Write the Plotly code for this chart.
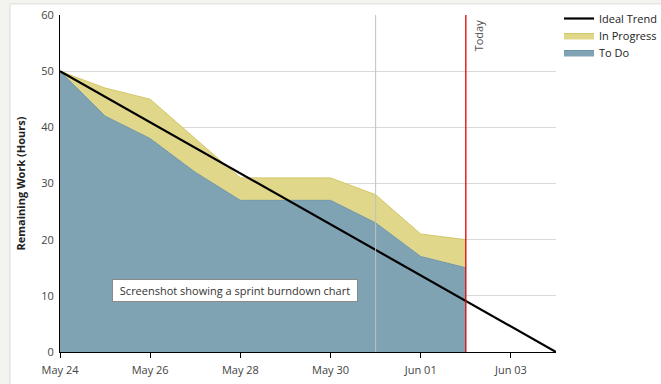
import plotly.graph_objects as go

dates = ["2011-05-24", "2011-05-25", "2011-05-26", "2011-05-27", "2011-05-28",
         "2011-05-29", "2011-05-30", "2011-05-31", "2011-06-01", "2011-06-02"]
todo = [50, 42, 38, 32, 27, 27, 27, 23, 17, 15]
total = [50, 47, 45, 38, 31, 31, 31, 28, 21, 20]
ideal_dates = ["2011-05-24", "2011-06-04"]
ideal_vals = [50, 0]
today = "2011-06-02"
marker_day = "2011-05-31"
y_ticks = [0, 10, 20, 30, 40, 50, 60]

font = "Open Sans, Noto Sans, sans-serif"

fig = go.Figure()
fig.add_trace(go.Scatter(x=dates, y=todo, name="To Do", mode="lines",
                         fill="tozeroy", fillcolor="#80a3b4",
                         line=dict(color="#6f95a8", width=1), legend="legend3"))
fig.add_trace(go.Scatter(x=dates, y=total, name="In Progress", mode="lines",
                         fill="tonexty", fillcolor="#e1d78a",
                         line=dict(color="#d4c766", width=1), legend="legend2"))
fig.add_trace(go.Scatter(x=ideal_dates, y=ideal_vals, name="Ideal Trend", mode="lines",
                         line=dict(color="black", width=2.2), legend="legend"))

fig.add_shape(type="line", xref="paper", yref="y", x0=0, x1=1, y0=max(y_ticks), y1=max(y_ticks),
              line=dict(color="#d9d9d9", width=1), layer="below")
fig.add_shape(type="line", xref="x", yref="paper", x0=marker_day, x1=marker_day,
              y0=0, y1=1, line=dict(color="#c0c0c0", width=1), layer="above")
fig.add_shape(type="line", xref="x", yref="paper", x0=today, x1=today,
              y0=0, y1=1, line=dict(color="#e00000", width=1.3), layer="above")
fig.add_shape(type="rect", xref="paper", yref="paper", x0=-0.1008, x1=1.3,
              y0=-0.2, y1=1.033, line=dict(color="#dddcd7", width=1),
              fillcolor="white", layer="below")

fig.add_annotation(x=today, xref="x", y=1, yref="paper", text="Today",
                   textangle=-90, showarrow=False, xanchor="left", yanchor="top",
                   xshift=3, yshift=-2, font=dict(size=11, color="#555", family=font))
fig.add_annotation(x=0.353, xref="paper", y=0.148, yref="paper",
                   text="Screenshot showing a sprint burndown chart", showarrow=False,
                   bgcolor="white", bordercolor="#8a8a8a", borderwidth=1, borderpad=3,
                   width=238, font=dict(size=11, color="#333", family=font))

legend_common = dict(xref="container", yref="container", x=559 / 661,
                     xanchor="left", yanchor="top",
                     font=dict(size=11, color="#222"), itemwidth=30,
                     bgcolor="rgba(0,0,0,0)")

fig.update_layout(
    width=661, height=384,
    margin=dict(l=60, r=105, t=15, b=32),
    paper_bgcolor="#f3f3f0", plot_bgcolor="white",
    font=dict(family=font, size=11, color="#444"),
    showlegend=True, hovermode=False,
    legend=dict(y=1 - 4 / 384, **legend_common),
    legend2=dict(y=1 - 21 / 384, **legend_common),
    legend3=dict(y=1 - 38 / 384, **legend_common),
    xaxis=dict(type="date", range=["2011-05-24", "2011-06-04"],
               tick0="2011-05-24", dtick=2 * 86400000, tickformat="%b %d",
               showgrid=False, showline=True, linecolor="black", linewidth=1,
               ticks="outside", ticklen=5, tickcolor="black", zeroline=False,
               ticklabelstandoff=3, automargin=False,
               tickfont=dict(size=11, color="#444")),
    yaxis=dict(range=[0, 60], tickvals=y_ticks, showgrid=True, gridcolor="#d9d9d9",
               showline=True, linecolor="black", linewidth=1, zeroline=False,
               ticks="outside", ticklen=3, tickcolor="rgba(0,0,0,0)",
               automargin=False, ticklabeloverflow="allow",
               tickfont=dict(size=11, color="#444"),
               title=dict(text="<b>Remaining Work (Hours)</b>", standoff=13,
                          font=dict(size=11, color="#222"))),
)

fig.write_html(
    "out.html",
    config={"displayModeBar": False},
    post_script="document.body.style.margin='0';"
                "document.body.style.overflow='hidden';"
                "document.documentElement.style.overflow='hidden';",
)
